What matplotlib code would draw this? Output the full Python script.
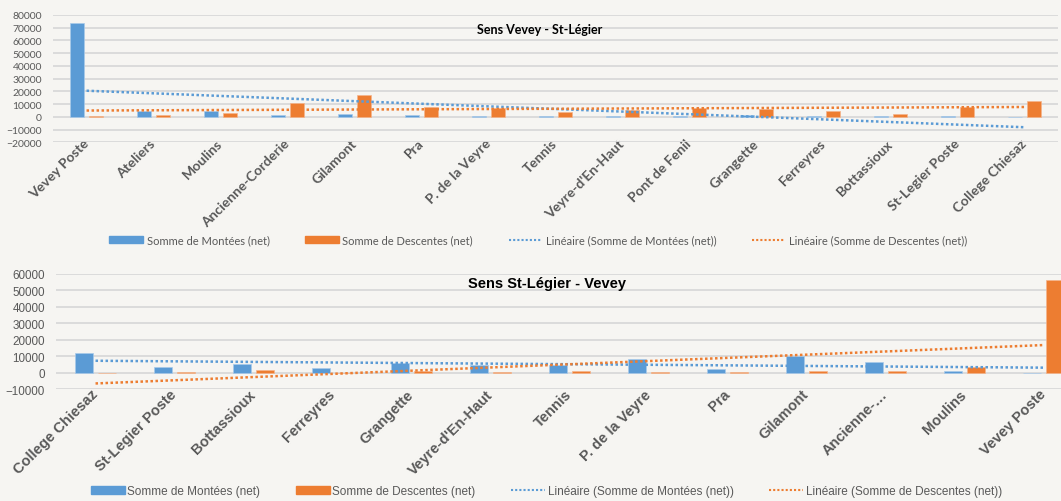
import numpy as np
import matplotlib.pyplot as plt
from matplotlib.patches import Patch
from matplotlib.lines import Line2D

# Sens Vevey - St-Légier
stops_up = ["Vevey Poste", "Ateliers", "Moulins", "Ancienne-Corderie", "Gilamont", "Pra",
            "P. de la Veyre", "Tennis", "Veyre-d'En-Haut", "Pont de Fenil", "Grangette",
            "Ferreyres", "Bottassioux", "St-Legier Poste", "College Chiesaz"]
montees_up = [74000, 4700, 4700, 1300, 2400, 1300, 500, 400, 400, 400, 1300, 500, 300, 500, 0]
descentes_up = [500, 1300, 2900, 10500, 17300, 7400, 6900, 3700, 5300, 6900, 6300, 4500, 1900, 7400, 12400]

# Sens St-Légier - Vevey
stops_down = ["College Chiesaz", "St-Legier Poste", "Bottassioux", "Ferreyres", "Grangette",
              "Veyre-d'En-Haut", "Tennis", "P. de la Veyre", "Pra", "Gilamont", "Ancienne-…",
              "Moulins", "Vevey Poste"]
montees_down = [12200, 3400, 5200, 2800, 5900, 4400, 4900, 8100, 2000, 10200, 6300, 800, 0]
descentes_down = [0, 200, 1400, 0, 800, 200, 700, 200, 600, 1200, 1000, 3200, 56300]

legend_labels = ["Somme de Montées (net)", "Somme de Descentes (net)",
                 "Linéaire (Somme de Montées (net))", "Linéaire (Somme de Descentes (net))"]

BLUE = '#5b9bd5'
ORANGE = '#ed7d31'
GREY = '#595959'
BG = '#f6f5f2'
GRID = '#d9d9d9'


def draw(ax, stops, mon, desc, ylim, font, xsize, ysize, width, off, xpad):
    x = np.arange(len(stops))
    ax.set_facecolor(BG)
    ax.bar(x - off, mon, width, color=BLUE, edgecolor='#a9cbea', linewidth=0.5, zorder=3)
    ax.bar(x + off, desc, width, color=ORANGE, edgecolor='#f5b58c', linewidth=0.5, zorder=3)
    # linear trendlines like Excel's
    for vals, c in ((mon, BLUE), (desc, ORANGE)):
        k, b = np.polyfit(x, vals, 1)
        ax.plot(x, k * x + b, color=c, lw=1.8, ls=(0, (1, 1)), zorder=4)
    ax.set_xlim(-0.5, len(stops) - 0.5)
    ax.set_ylim(*ylim)
    ax.set_yticks(np.arange(ylim[0], ylim[1] + 1, 10000))
    ax.yaxis.grid(True, color=GRID, lw=1.3, zorder=0)
    ax.set_axisbelow(True)
    for s in ax.spines.values():
        s.set_visible(False)
    ax.tick_params(length=0, pad=8)
    ax.tick_params(axis='x', pad=xpad)
    ax.set_xticks(x)
    ax.set_xticklabels(stops, rotation=45, ha='right', va='center', rotation_mode='anchor',
                       fontweight='bold', color=GREY, fontsize=xsize, family=font)
    for t in ax.get_yticklabels():
        t.set_color(GREY)
        t.set_fontsize(ysize)
        t.set_family(font)


fig = plt.figure(figsize=(10.61, 5.02), dpi=100, facecolor=BG)

ax1 = fig.add_axes([0.05, 0.7145, 0.9472, 0.2537])
draw(ax1, stops_up, montees_up, descentes_up, (-20000, 80000), 'Lato', 10, 7.5, 0.21, 0.14, -1)
fig.text(0.509, 0.940, "Sens Vevey - St-Légier", ha='center', va='center',
         fontsize=9, fontweight='bold', family='Lato', color='black')

ax2 = fig.add_axes([0.0528, 0.2231, 0.968, 0.2291])
draw(ax2, stops_down, montees_down, descentes_down, (-10000, 60000), 'Liberation Sans', 10.5, 8.4, 0.225, 0.145, 2)
fig.text(0.516, 0.434, "Sens St-Légier - Vevey", ha='center', va='center',
         fontsize=10.5, fontweight='bold', family='Liberation Sans', color='black')

handles = [Patch(color=BLUE), Patch(color=ORANGE),
           Line2D([], [], color=BLUE, lw=1.5, ls=(0, (1, 1))),
           Line2D([], [], color=ORANGE, lw=1.5, ls=(0, (1, 1)))]

fig.legend(handles, legend_labels, loc='center', bbox_to_anchor=(0.5075, 0.52), ncol=4,
           frameon=False, prop={'family': 'Lato', 'size': 8}, labelcolor=GREY,
           handlelength=3.0, handletextpad=0.35, columnspacing=3.2)
fig.legend(handles, legend_labels, loc='center', bbox_to_anchor=(0.515, 0.02), ncol=4,
           frameon=False, prop={'family': 'Liberation Sans', 'size': 8.5}, labelcolor=GREY,
           handlelength=2.9, handletextpad=0.2, columnspacing=3.0)

fig.savefig('out.png', dpi=100, facecolor=BG)
